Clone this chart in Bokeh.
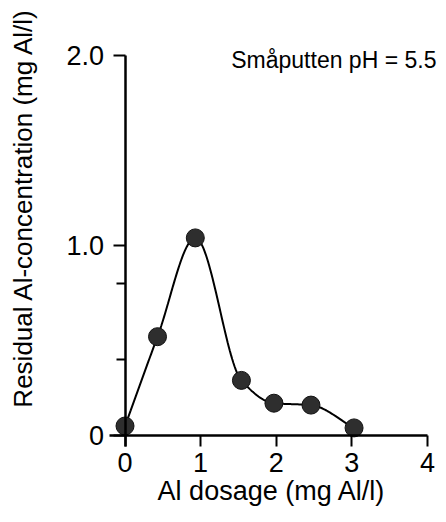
import numpy as np
from bokeh.plotting import figure
from bokeh.models import Label, FixedTicker, Range1d
from bokeh.embed import file_html
from bokeh.resources import INLINE

# ---- data ----
dose = [0.0, 0.43, 0.93, 1.54, 1.97, 2.46, 3.03]       # Al dosage (mg Al/l)
resid = [0.05, 0.52, 1.04, 0.29, 0.17, 0.16, 0.04]     # residual Al (mg Al/l)
x_ticks = [0, 1, 2, 3, 4]
y_ticks = [0, 1, 2]
y_tick_labels = {0: "0", 1: "1.0", 2: "2.0"}
y_minor = [0.4, 0.8]
title_text = "Småputten pH = 5.5"
x_title = "Al dosage (mg Al/l)"
y_title = "Residual Al-concentration (mg Al/l)"

FONT = "Liberation Sans"


def smooth(x, y, n=40):
    """monotone cubic (Fritsch-Carlson) curve through the measured points"""
    x = np.asarray(x, float)
    y = np.asarray(y, float)
    h = np.diff(x)
    d = np.diff(y) / h
    m = np.zeros_like(y)
    for k in range(1, len(x) - 1):
        if d[k - 1] * d[k] > 0:
            w1 = 2 * h[k] + h[k - 1]
            w2 = h[k] + 2 * h[k - 1]
            m[k] = (w1 + w2) / (w1 / d[k - 1] + w2 / d[k])
    m[0] = d[0]
    m[-1] = d[-1]
    xs, ys = [], []
    for k in range(len(h)):
        t = np.linspace(0, 1, n, endpoint=(k == len(h) - 1))
        h00 = 2 * t**3 - 3 * t**2 + 1
        h10 = t**3 - 2 * t**2 + t
        h01 = -2 * t**3 + 3 * t**2
        h11 = t**3 - t**2
        xs.extend(x[k] + t * h[k])
        ys.extend(h00 * y[k] + h10 * h[k] * m[k] + h01 * y[k + 1] + h11 * h[k] * m[k + 1])
    return xs, ys


# frame fills the whole canvas; axes are pinned at x=0 / y=0
p = figure(width=438, height=506, output_backend="svg", toolbar_location=None,
           x_range=Range1d(-1.647, 4.147), y_range=Range1d(-0.3737, 2.2895),
           min_border_left=0, min_border_right=0, min_border_top=0, min_border_bottom=0,
           title=None)
p.outline_line_color = None
p.grid.visible = False
p.background_fill_color = "white"
p.border_fill_color = "white"

cx, cy = smooth(dose, resid)
p.line(cx, cy, line_color="black", line_width=2)
p.scatter(dose, resid, size=18, fill_color="#2e2e2e", line_color="#111111", line_width=1)

# x axis
xa = p.xaxis[0]
xa.fixed_location = 0
xa.bounds = (-0.2, 4)
xa.ticker = FixedTicker(ticks=x_ticks)
xa.axis_line_width = 2.5
xa.major_tick_line_width = 2
xa.major_tick_out = 11
xa.major_tick_in = 0
xa.minor_tick_out = 0
xa.major_label_standoff = 7
xa.major_label_text_font = FONT
xa.major_label_text_font_size = "27px"
xa.major_label_text_color = "black"

# y axis
ya = p.yaxis[0]
ya.fixed_location = 0
ya.bounds = (-0.06, 2.0)
ya.ticker = FixedTicker(ticks=y_ticks, minor_ticks=y_minor)
ya.major_label_overrides = y_tick_labels
ya.axis_line_width = 2.5
ya.major_tick_line_width = 2
ya.minor_tick_line_width = 2
ya.major_tick_out = 12
ya.major_tick_in = 0
ya.minor_tick_out = 9
ya.minor_tick_in = 0
ya.major_label_standoff = 9
ya.major_label_text_font = FONT
ya.major_label_text_font_size = "27px"
ya.major_label_text_color = "black"

p.add_layout(Label(x=4.12, y=1.974, text=title_text, text_align="right",
                   text_baseline="middle", text_font=FONT, text_font_size="23px",
                   text_color="black"))
p.add_layout(Label(x=1.94, y=-0.29, text=x_title, text_align="center",
                   text_baseline="middle", text_font=FONT, text_font_size="27px",
                   text_color="black"))
p.add_layout(Label(x=-1.343, y=1.2, text=y_title, angle=np.pi / 2, text_align="center",
                   text_baseline="middle", text_font=FONT, text_font_size="26px",
                   text_color="black"))

open("out.html", "w").write(file_html(p, INLINE))
